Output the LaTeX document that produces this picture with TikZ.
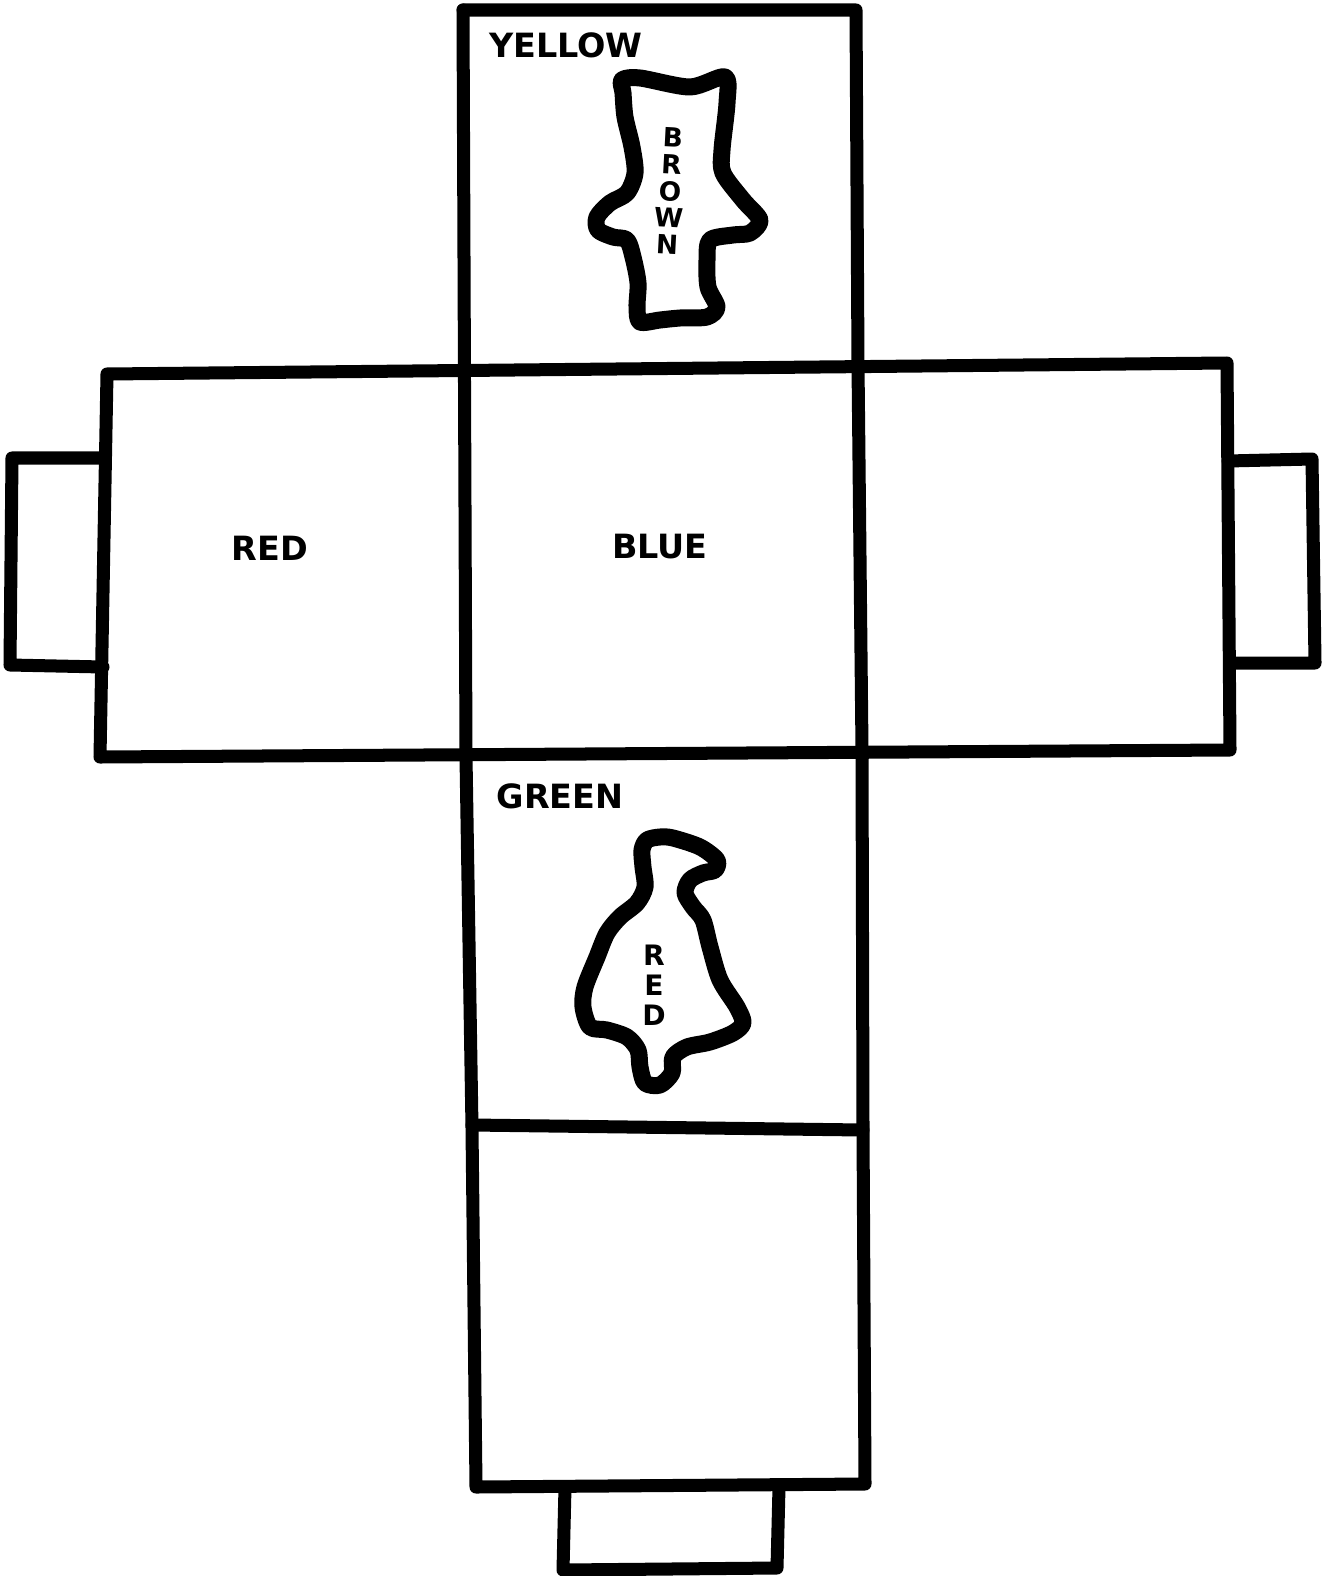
\documentclass[tikz,border=0pt]{standalone}
\usepackage{fontspec}
\setmainfont{DejaVu Sans}
\begin{document}
\begin{tikzpicture}[x=0.01cm,y=-0.01cm,
  edge/.style={line width=0.13cm, line join=round, line cap=round},
  blob/.style={line width=0.17cm, line join=round},
  face/.style={font=\bfseries\fontsize{9.5}{10}\selectfont, inner sep=0pt},
  stack/.style={font=\bfseries\fontsize{7.5}{7.6}\selectfont, align=center, inner sep=0pt}]
\useasboundingbox (0,0) rectangle (1332,1576);

\draw[edge] (463,10) -- (856,10) -- (858,365);
\draw[edge] (107,374) -- (1227,363) -- (1230,750) -- (100,757) -- cycle;
\draw[edge] (463,10) -- (466,757) -- (472,1128) -- (476,1487) -- (865,1484) -- (863,1128) -- (862,750) -- (858,365);
\draw[edge] (472,1125) -- (863,1130);
\draw[edge] (105,458) -- (12,458) -- (10,665) -- (103,667);
\draw[edge] (1228,461) -- (1312,459) -- (1315,663) -- (1230,663);
\draw[edge] (565,1487) -- (563,1570) -- (777,1568) -- (779,1487);

\draw[blob] plot[smooth cycle, tension=0.5] coordinates {
  (622,80) (640,78) (690,87) (725,77) (727,103) (722,150) (723,173) (743,200)
  (760,220) (750,233) (733,235) (710,240) (707,260) (708,287) (717,307) (707,317)
  (680,318) (660,320) (640,322) (637,307) (638,283) (633,257) (627,240) (613,237)
  (598,230) (597,217) (610,203) (627,193) (635,173) (632,147) (625,117) (623,93)};
\draw[blob] plot[smooth cycle, tension=0.5] coordinates {
  (647,840) (660,837) (673,838) (700,847) (717,860) (715,870) (703,873) (690,880)
  (685,893) (693,907) (703,920) (710,947) (720,980) (737,1007) (743,1023) (733,1033)
  (710,1042) (687,1047) (673,1057) (672,1073) (660,1085) (645,1083) (640,1067) (638,1050)
  (627,1037) (607,1030) (590,1027) (583,1007) (585,987) (597,957) (607,933) (620,917)
  (637,903) (645,887) (643,867) (642,850)};

\node[face] (yellow) at (566,45) {YELLOW};
\node[face] (red) at (270,548) {RED};
\node[face] (blue) at (660,547) {BLUE};
\node[face] (green) at (560,796) {GREEN};
\node[stack, rotate=-3] (brown) at (670,191) {B\\R\\O\\W\\N};
\node[stack, font=\bfseries\fontsize{8}{8.6}\selectfont] (redspot) at (654,985) {R\\E\\D};
\end{tikzpicture}
\end{document}
